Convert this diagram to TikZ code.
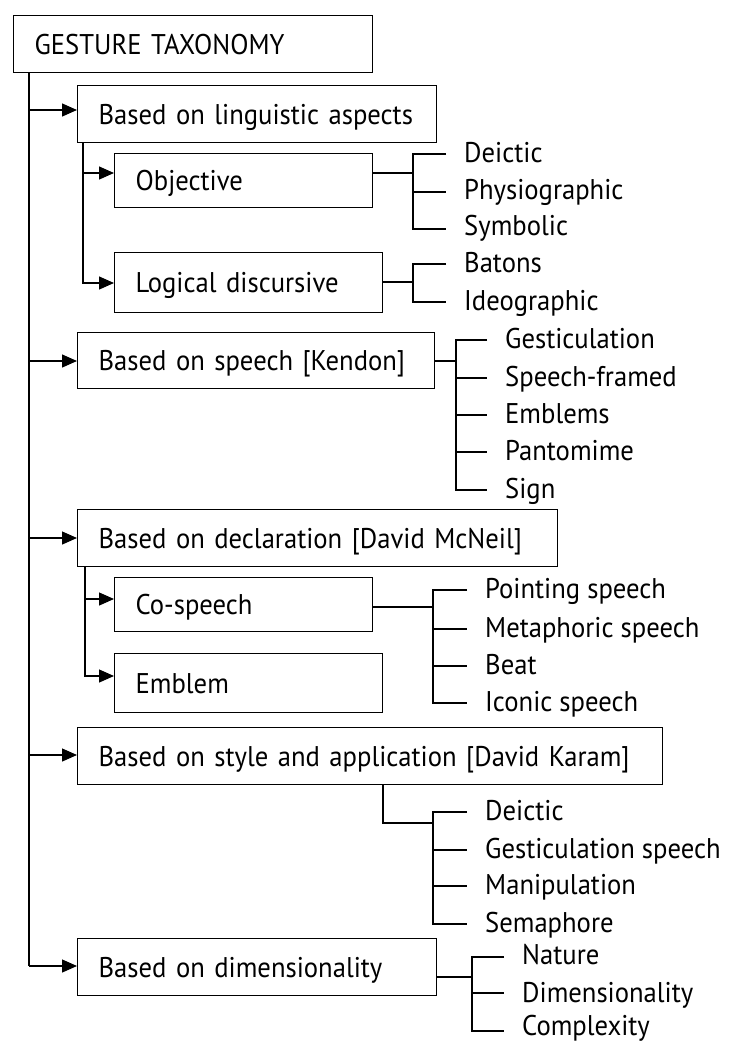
\documentclass[tikz,border=0pt]{standalone}
\usepackage{fontspec}
\setmainfont[FakeStretch=0.935]{PT Sans}
\usetikzlibrary{arrows.meta}
\tikzset{
  box/.style={draw, line width=1.3pt, anchor=north west, inner xsep=21pt, inner ysep=0pt, align=left, text height=20pt, text depth=0pt},
  leaf/.style={anchor=base west, inner sep=0pt},
  ln/.style={line width=1.3pt},
  arr/.style={line width=1.3pt, -{Triangle[length=15pt,width=13pt]}}
}
\begin{document}
\begin{tikzpicture}[x=1pt,y=-1pt,font=\fontsize{28.5}{32}\selectfont]
\useasboundingbox (0,0) rectangle (734,1044);
% boxes
\node[box, text width=317pt, minimum height=57pt] (root) at (13,15) {\mbox{GESTURE TAXONOMY}};
\node[box, text width=317pt, minimum height=57pt] (b1) at (77,85) {\mbox{Based on linguistic aspects}};
\node[box, text width=216pt, minimum height=54pt] (obj) at (114,153) {\mbox{Objective}};
\node[box, text width=226pt, minimum height=60pt] (log) at (114,252) {\mbox{Logical discursive}};
\node[box, text width=315pt, minimum height=56pt] (ken) at (77,332) {\mbox{Based on speech [Kendon]}};
\node[box, text width=438pt, minimum height=57pt] (dec) at (77,509) {\mbox{Based on declaration [David McNeil]}};
\node[box, text width=216pt, minimum height=54pt] (cos) at (114,577) {\mbox{Co-speech}};
\node[box, text width=226pt, minimum height=59pt] (emb) at (114,653) {\mbox{Emblem}};
\node[box, text width=543pt, minimum height=57pt] (sty) at (77,727) {\mbox{Based on style and application [David Karam]}};
\node[box, text width=317pt, minimum height=57pt] (dim) at (77,938) {\mbox{Based on dimensionality}};

% leaves
\node[leaf] (l11) at (464,162) {Deictic};
\node[leaf] (l12) at (464,199) {Physiographic};
\node[leaf] (l13) at (464,235) {Symbolic};
\node[leaf] (l21) at (464,272) {Batons};
\node[leaf] (l22) at (464,310) {Ideographic};
\node[leaf] (l31) at (505,348) {Gesticulation};
\node[leaf] (l32) at (505,386) {Speech-framed};
\node[leaf] (l33) at (505,423) {Emblems};
\node[leaf] (l34) at (505,460) {Pantomime};
\node[leaf] (l35) at (505,498) {Sign};
\node[leaf] (l41) at (485,598) {Pointing speech};
\node[leaf] (l42) at (485,637) {Metaphoric speech};
\node[leaf] (l43) at (485,674) {Beat};
\node[leaf] (l44) at (485,711) {Iconic speech};
\node[leaf] (l51) at (485,820) {Deictic};
\node[leaf] (l52) at (485,858) {Gesticulation speech};
\node[leaf] (l53) at (485,894) {Manipulation};
\node[leaf] (l54) at (485,932) {Semaphore};
\node[leaf] (l61) at (522,964) {Nature};
\node[leaf] (l62) at (522,1002) {Dimensionality};
\node[leaf] (l63) at (522,1035) {Complexity};

% main trunk
\coordinate (tr) at (29,72);
\draw[ln] (tr) -- (29,966);
\draw[arr] (tr |- 0,110) -- (b1.west |- 0,110);
\draw[arr] (tr |- 0,361) -- (ken.west |- 0,361);
\draw[arr] (tr |- 0,538) -- (dec.west |- 0,538);
\draw[arr] (tr |- 0,755) -- (sty.west |- 0,755);
\draw[arr] (29,966) -- (dim.west |- 0,966);

% linguistic sub-trunk
\draw[arr] (b1.south -| 83,0) |- (log.west |- 0,283);
\draw[arr] (83,173) -- (obj.west |- 0,173);
% declaration sub-trunk
\draw[arr] (dec.south -| 85,0) |- (emb.west |- 0,676);
\draw[arr] (85,599) -- (cos.west |- 0,599);

% objective bracket
\draw[ln] (obj.east |- 0,173) -- (413,173);
\draw[ln] (446,154) -- (413,154) -- (413,229) -- (446,229);
\draw[ln] (413,192) -- (446,192);
% logical bracket
\draw[ln] (log.east |- 0,282) -- (413,282);
\draw[ln] (446,264) -- (413,264) -- (413,302) -- (446,302);
% kendon bracket
\draw[ln] (ken.east |- 0,361) -- (456,361);
\draw[ln] (487,340) -- (456,340) -- (456,490) -- (487,490);
\foreach \y in {378,415,452} \draw[ln] (456,\y) -- (487,\y);
% co-speech bracket
\draw[ln] (cos.east |- 0,607) -- (433,607);
\draw[ln] (467,590) -- (433,590) -- (433,703) -- (467,703);
\foreach \y in {629,666} \draw[ln] (433,\y) -- (467,\y);
% style bracket
\draw[ln] (sty.south -| 383,0) -- (383,823) -- (433,823);
\draw[ln] (467,812) -- (433,812) -- (433,924) -- (467,924);
\foreach \y in {850,886} \draw[ln] (433,\y) -- (467,\y);
% dimensionality bracket
\draw[ln] (dim.east |- 0,977) -- (472,977);
\draw[ln] (504,957) -- (472,957) -- (472,1031) -- (504,1031);
\draw[ln] (472,993) -- (504,993);
\end{tikzpicture}
\end{document}
